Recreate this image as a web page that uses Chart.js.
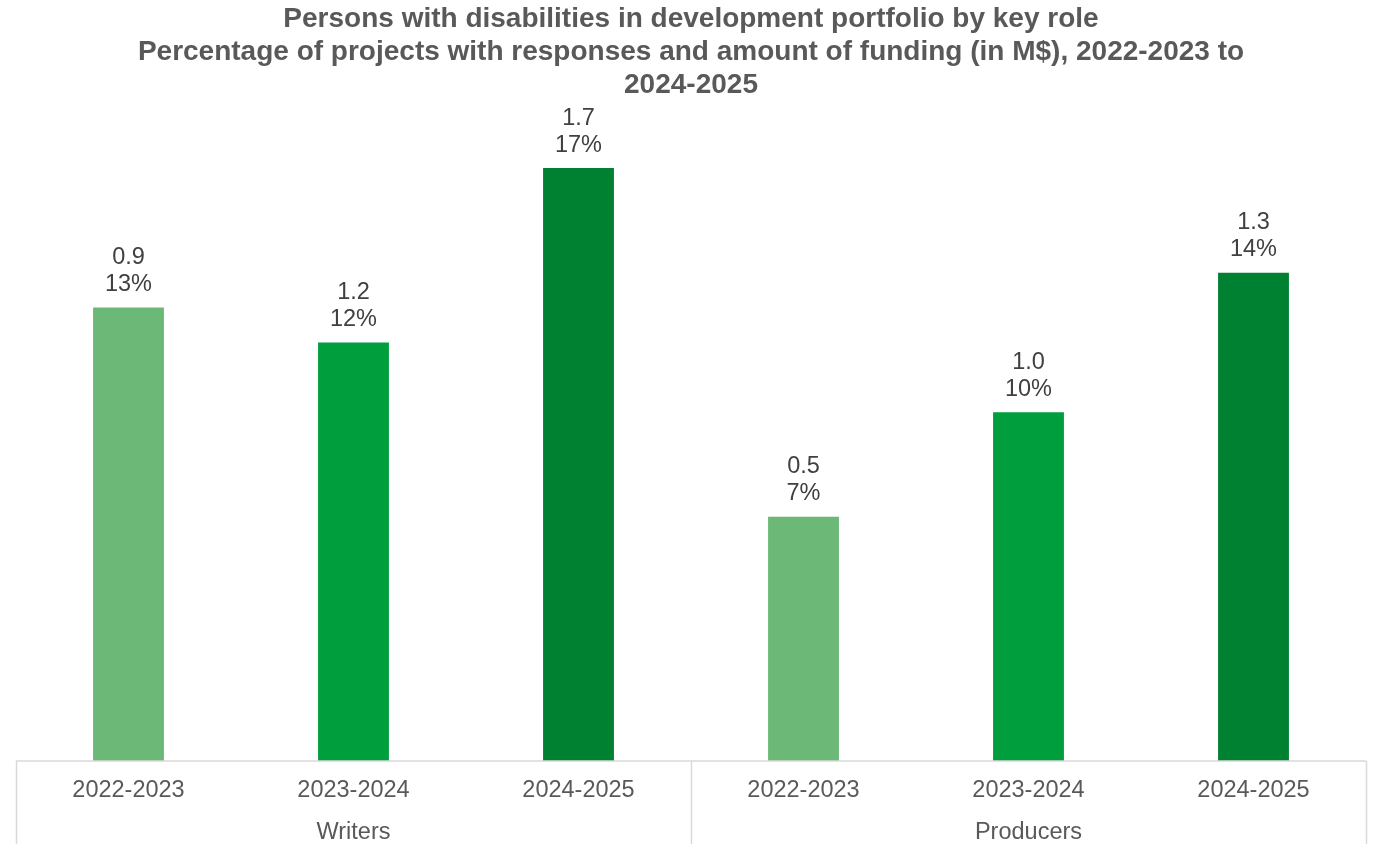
<!DOCTYPE html>
<html>
<head>
<meta charset="utf-8">
<script src="https://cdn.jsdelivr.net/npm/chart.js@4"></script>
<style>
  html, body { margin: 0; padding: 0; background: #fff; }
  #wrap { width: 1373px; height: 844px; }
</style>
</head>
<body>
<div id="wrap"><canvas id="chart"></canvas></div>
<script>
// Data
const years = ["2022-2023", "2023-2024", "2024-2025", "2022-2023", "2023-2024", "2024-2025"];
const roles = ["Writers", "Producers"];
const percentages = [13, 12, 17, 7, 10, 14];
const funding = ["0.9", "1.2", "1.7", "0.5", "1.0", "1.3"];
const barColors = ["#6BB877", "#009E3C", "#008031", "#6BB877", "#009E3C", "#008031"];

const titleLines = [
  "Persons with disabilities in development portfolio by key role",
  "Percentage of projects with responses and amount of funding (in M$), 2022-2023 to",
  "2024-2025"
];

const FONT = "'Liberation Sans', Arial, sans-serif";

// Labels above bars: funding then percentage
const barLabels = {
  id: "barLabels",
  afterDatasetsDraw(chart) {
    const ctx = chart.ctx;
    const meta = chart.getDatasetMeta(0);
    ctx.save();
    ctx.font = "23.5px " + FONT;
    ctx.fillStyle = "#404040";
    ctx.textAlign = "center";
    ctx.textBaseline = "middle";
    meta.data.forEach(function(bar, i) {
      ctx.fillText(funding[i], bar.x, bar.y - 50);
      ctx.fillText(percentages[i] + "%", bar.x, bar.y - 23);
    });
    ctx.restore();
  }
};

// Axis line and group separators below the plot
const axisFrame = {
  id: "axisFrame",
  afterDraw(chart) {
    const ctx = chart.ctx;
    const x = chart.scales.x;
    const bottom = chart.chartArea.bottom;
    ctx.save();
    ctx.strokeStyle = "#D9D9D9";
    ctx.lineWidth = 1.5;
    ctx.beginPath();
    ctx.moveTo(chart.chartArea.left, bottom);
    ctx.lineTo(chart.chartArea.right, bottom);
    [0, 3, 6].forEach(function(i) {
      const px = Math.round(x.getPixelForValue(i - 0.5)) + 0.5;
      ctx.moveTo(px, bottom);
      ctx.lineTo(px, chart.height);
    });
    ctx.stroke();
    ctx.restore();
  }
};

new Chart(document.getElementById("chart"), {
  type: "bar",
  data: {
    labels: years,
    datasets: [{
      data: percentages,
      backgroundColor: barColors,
      barPercentage: 0.63,
      categoryPercentage: 0.5
    }]
  },
  options: {
    responsive: true,
    maintainAspectRatio: false,
    animation: false,
    layout: { padding: { left: 16, right: 7, top: 0, bottom: 0 } },
    plugins: {
      legend: { display: false },
      tooltip: { enabled: false },
      title: {
        display: true,
        text: titleLines,
        color: "#595959",
        font: { family: FONT, size: 28, weight: "bold", lineHeight: 1.18 },
        padding: { top: 3, bottom: 0 }
      }
    },
    scales: {
      x: {
        grid: { display: false, drawTicks: false },
        border: { display: false },
        ticks: {
          color: "#595959",
          padding: 18,
          maxRotation: 0,
          font: { family: FONT, size: 23.5, lineHeight: 1.0 }
        }
      },
      x2: {
        type: "category",
        labels: roles,
        offset: true,
        position: "bottom",
        grid: { display: false, drawTicks: false },
        border: { display: false },
        ticks: {
          color: "#595959",
          padding: 0,
          maxRotation: 0,
          font: { family: FONT, size: 23.5, lineHeight: 1.0 }
        }
      },
      y: {
        display: false,
        min: 0,
        max: 18.89
      }
    }
  },
  plugins: [barLabels, axisFrame]
});
</script>
</body>
</html>
